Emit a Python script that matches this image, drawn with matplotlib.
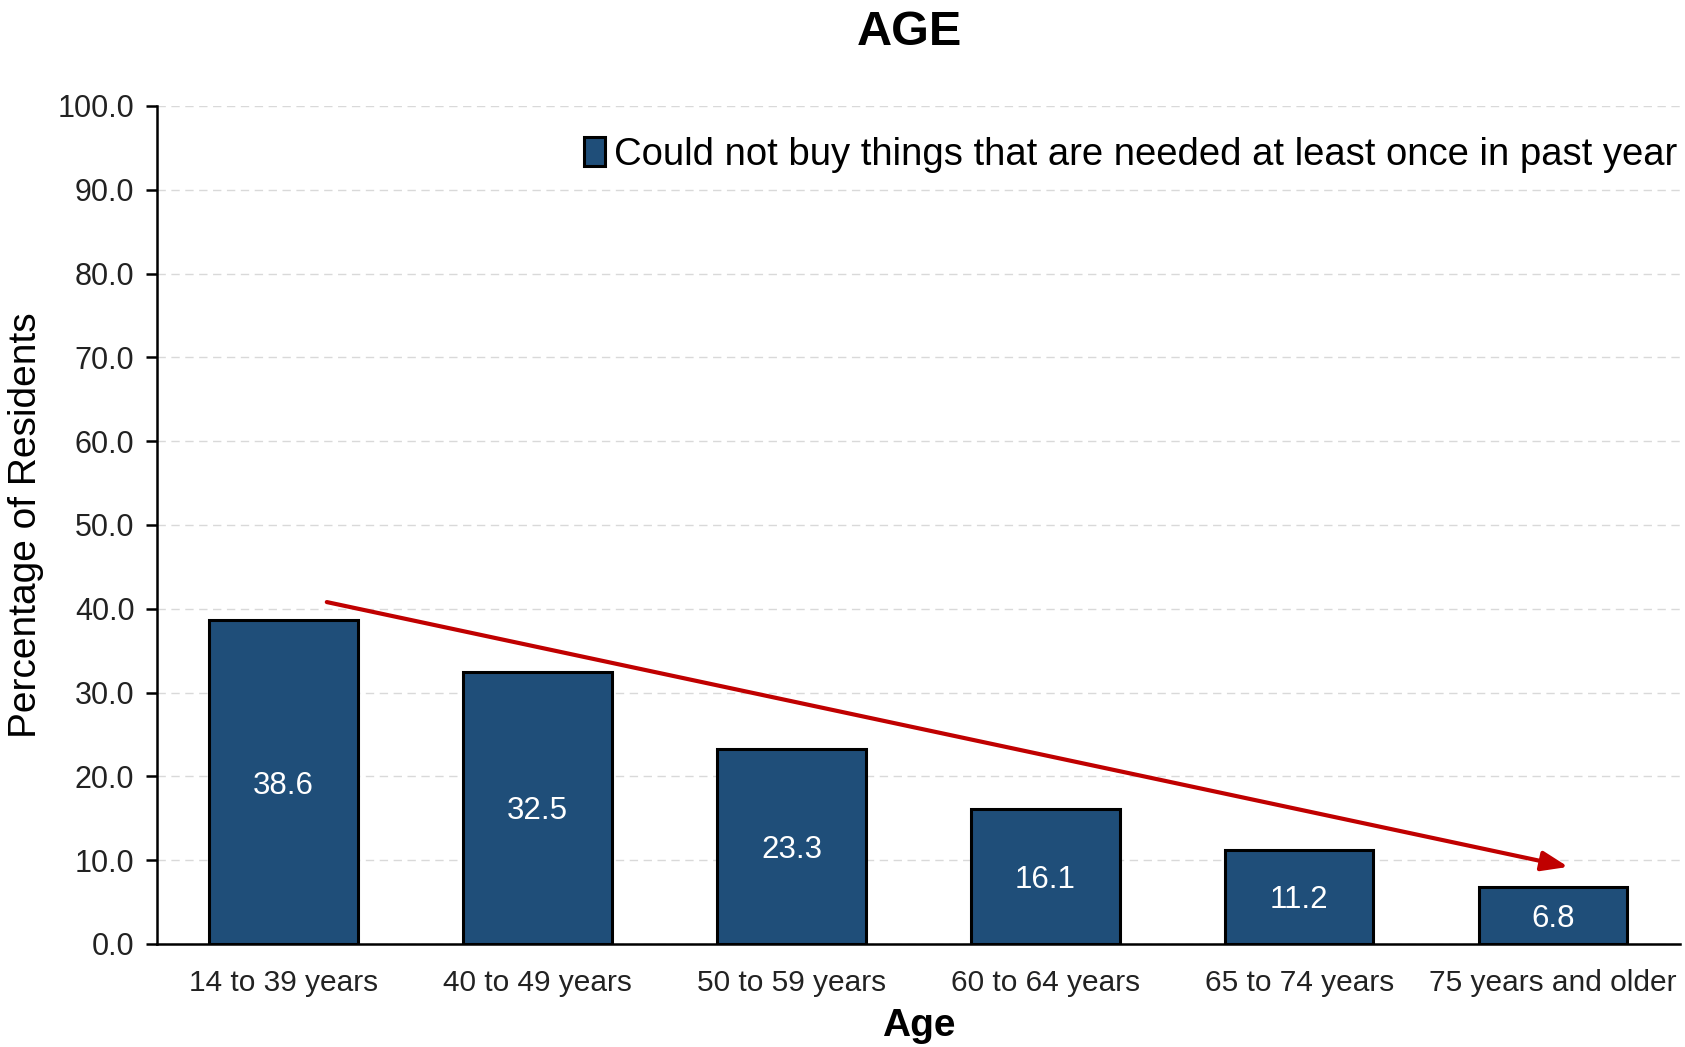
import matplotlib.pyplot as plt
import numpy as np

plt.rcParams['font.family'] = ['Liberation Sans', 'DejaVu Sans']

categories = ['14 to 39 years', '40 to 49 years', '50 to 59 years',
              '60 to 64 years', '65 to 74 years', '75 years and older']
values = [38.6, 32.5, 23.3, 16.1, 11.2, 6.8]
series_name = 'Could not buy things that are needed at least once in past year'
yticks = np.arange(0, 101, 10)

fig = plt.figure(figsize=(16.85, 10.47), dpi=100)
ax = fig.add_axes([0.093, 0.0984, 0.904, 0.8004])

x = np.arange(len(categories))
bars = ax.bar(x, values, width=0.585, color='#1F4E79', edgecolor='black',
              linewidth=2.2, label=series_name, zorder=3)

# value labels in the middle of each bar
for xi, v in zip(x, values):
    ax.text(xi, v / 2 - 0.4, f'{v:.1f}', ha='center', va='center',
            color='white', fontsize=22.5, zorder=4)

ax.set_xlim(-0.5, len(categories) - 0.5)
ax.set_ylim(0, 100)
ax.set_yticks(yticks)
ax.set_yticklabels([f'{t:.1f}' for t in yticks])
ax.set_xticks(x)
ax.set_xticklabels(categories)
ax.tick_params(axis='y', labelsize=22, length=8, width=1.8, direction='out',
               colors='black', labelcolor='#222222', pad=8)
ax.tick_params(axis='x', labelsize=21.5, length=0, pad=18, labelcolor='#222222')

ax.grid(axis='y', linestyle=(0, (6, 4)), color='#d9d9d9', linewidth=1, zorder=0)
for s in ['top', 'right']:
    ax.spines[s].set_visible(False)
ax.spines['left'].set_linewidth(1.8)
ax.spines['bottom'].set_linewidth(1.8)

ax.set_ylabel('Percentage of Residents', fontsize=28, labelpad=10)
ax.set_xlabel('Age', fontsize=28, fontweight='bold', labelpad=8)
fig.suptitle('AGE', fontsize=35, fontweight='bold', x=0.54, y=0.99, va='top')

leg = ax.legend(loc='upper right', bbox_to_anchor=(1.016, 0.995), frameon=False,
                fontsize=27.5, handlelength=0.55, handleheight=0.8,
                handletextpad=0.25, borderpad=0.2)

# trend arrow
ax.annotate('', xy=(5.06, 9.2), xytext=(0.17, 40.8),
            arrowprops=dict(arrowstyle='-|>,head_length=1.6,head_width=0.6',
                            color='#C00000', lw=3, shrinkA=0, shrinkB=0),
            zorder=5)

fig.savefig('out.png', dpi=100)
